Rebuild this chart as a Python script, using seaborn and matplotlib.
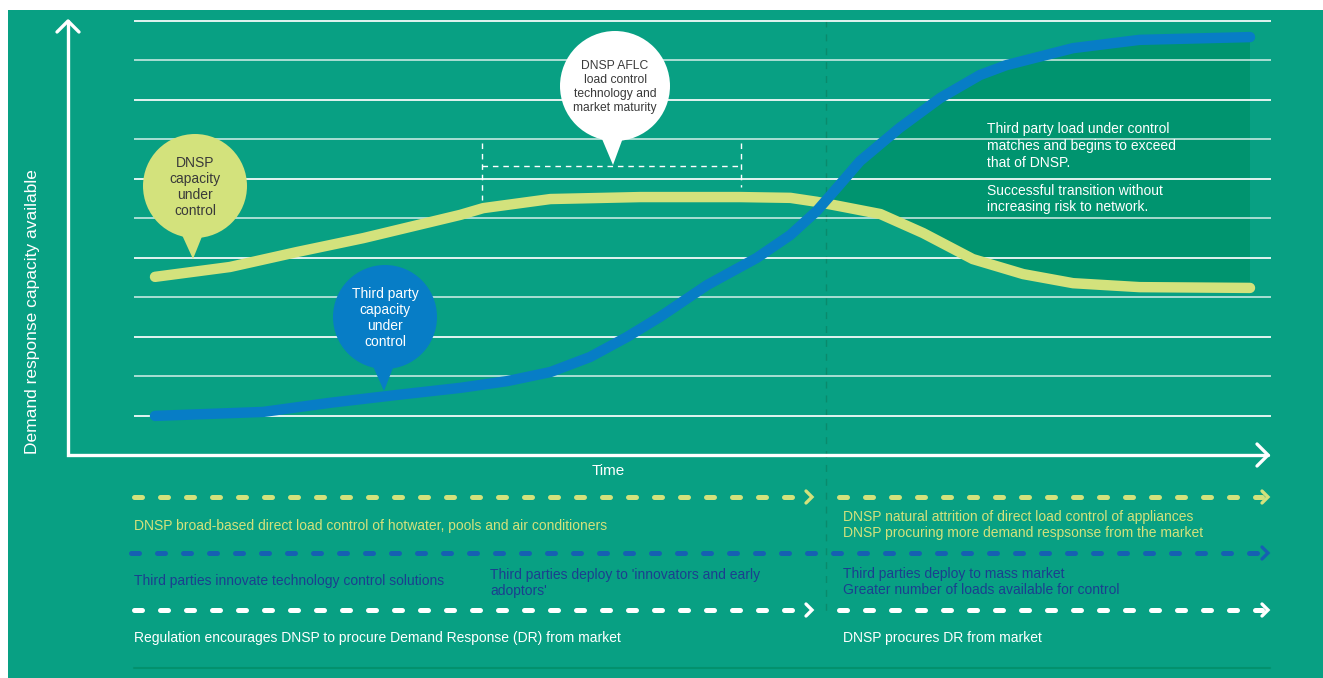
import matplotlib
matplotlib.use("Agg")
import matplotlib.pyplot as plt
from matplotlib.patches import Rectangle, Circle, Polygon
import seaborn as sns

# ---- data (time: 0-100 % of horizon, capacity: grid steps)
dnsp_time = [7.25, 13.5, 19.1, 24.6, 32.7, 34.6, 40.2, 47.7, 56.0, 60.2, 62.4,
             64.3, 67.7, 71.25, 75.4, 79.6, 83.75, 89.3, 98.5]
dnsp_capacity = [4.51, 4.76, 5.14, 5.49, 6.08, 6.25, 6.48, 6.53, 6.53, 6.51, 6.41,
                 6.30, 6.10, 5.62, 4.96, 4.58, 4.35, 4.25, 4.23]

third_time = [7.25, 16.25, 21.8, 27.4, 32.7, 36.6, 40.2, 43.5, 46.6, 49.3, 53.25,
              57.4, 60.2, 62.4, 64.3, 66.0, 69.3, 72.7, 76.0, 78.2, 83.75, 89.3, 98.5]
third_capacity = [0.99, 1.09, 1.32, 1.52, 1.70, 1.87, 2.10, 2.48, 2.99, 3.49, 4.30,
                  4.99, 5.57, 6.18, 6.84, 7.44, 8.28, 9.04, 9.62, 9.87, 10.30, 10.51, 10.58]

grid_levels = list(range(1, 12))
transition_time = 63.2

bubble_labels = ["DNSP\ncapacity\nunder\ncontrol",
                 "Third party\ncapacity\nunder\ncontrol",
                 "DNSP AFLC\nload control\ntechnology and\nmarket maturity"]
note_lines = ["Third party load under control\nmatches and begins to exceed\nthat of DNSP.",
              "Successful transition without\nincreasing risk to network."]
phase1_labels = ["DNSP broad-based direct load control of hotwater, pools and air conditioners",
                 "Third parties innovate technology control solutions",
                 "Regulation encourages DNSP to procure Demand Response (DR) from market"]
phase1b_label = "Third parties deploy to 'innovators and early\nadoptors'"
phase2_labels = ["DNSP natural attrition of direct load control of appliances\n"
                 "DNSP procuring more demand respsonse from the market",
                 "Third parties deploy to mass market\nGreater number of loads available for control",
                 "DNSP procures DR from market"]

BG = "#08a083"
DARK = "#00946f"
YELLOW = "#d3e27c"
BLUE = "#077dc6"
NAVY = "#1b3f8f"
BLUE_DASH = "#1660b2"

sns.set_style("white")
plt.rcParams["font.family"] = ["Liberation Sans", "DejaVu Sans"]

W, H = 1323, 678
fig = plt.figure(figsize=(W / 100, H / 100), dpi=100)
fig.patch.set_facecolor("white")

ax_bg = fig.add_axes([0, 0, 1, 1], zorder=0)
ax_bg.set_xlim(0, W)
ax_bg.set_ylim(H, 0)
ax_bg.axis("off")
ax_bg.add_patch(Rectangle((8, 10), W - 8, H - 10, color=BG, lw=0))


def px(t):
    return 68 + 12 * t


# phase divider
ax_bg.plot([px(transition_time)] * 2, [20, 617], color="#0a8a6c", lw=1,
           dashes=(5, 5))

# ---- main chart
ax = fig.add_axes([68 / W, (H - 455) / H, 1200 / W, 435 / H], zorder=1)
ax.set_xlim(0, 100)
ax.set_ylim(0, 435 / 39.5)
ax.patch.set_alpha(0)
ax.axis("off")

for i, lv in enumerate(grid_levels):
    ax.hlines(lv, 5.5, 100.25, color="white", lw=1.3,
              alpha=0.95 if i % 2 == 0 else 0.7, zorder=2, clip_on=False)

# shaded region where third party capacity exceeds DNSP
top = [(t, c) for t, c in zip(third_time, third_capacity) if t >= 62.4]
bot = [(t, c) for t, c in zip(dnsp_time, dnsp_capacity) if t >= 62.4]
ax.add_patch(Polygon(top + bot[::-1], closed=True, color=DARK, lw=0, zorder=1))

sns.lineplot(x=dnsp_time, y=dnsp_capacity, ax=ax, color=YELLOW, linewidth=7.5,
             sort=False, solid_capstyle="round", solid_joinstyle="round", zorder=3)
sns.lineplot(x=third_time, y=third_capacity, ax=ax, color=BLUE, linewidth=7.5,
             sort=False, solid_capstyle="round", solid_joinstyle="round", zorder=4)

# maturity bracket
br_kw = dict(color="white", lw=1, dashes=(4, 3.5), zorder=2, clip_on=False)
ax.plot([34.5, 56.1], [7.32, 7.32], **br_kw)
ax.plot([34.5, 34.5], [7.9, 6.46], **br_kw)
ax.plot([56.1, 56.1], [7.9, 6.78], **br_kw)

# ---- overlay: axes arrows, bubbles, annotations
ax_top = fig.add_axes([0, 0, 1, 1], zorder=2)
ax_top.set_xlim(0, W)
ax_top.set_ylim(H, 0)
ax_top.patch.set_alpha(0)
ax_top.axis("off")

ax_top.plot([68, 68, 1268], [21, 455, 455], color="white", lw=2.4,
            solid_joinstyle="miter")
ax_top.plot([57, 68, 79], [32, 21, 32], color="white", lw=2.4,
            solid_capstyle="round")
ax_top.plot([1257, 1268, 1257], [444, 455, 466], color="white", lw=2.4,
            solid_capstyle="round")
ax_top.text(33, 312, "Demand response capacity available", rotation=90,
            color="white", fontsize=12.5, ha="center", va="center")
ax_top.text(608, 471, "Time", color="white", fontsize=11, ha="center", va="center")

bubbles = [((195, 186), 52, (193, 259), YELLOW, "#3a3a3a", 10),
           ((385, 317), 52, (384, 391), BLUE, "white", 10),
           ((615, 86), 55, (613, 165), "white", "#3a3a3a", 8.7)]
for (center, r, tip, fc, tc, fs), label in zip(bubbles, bubble_labels):
    cx, cy = center
    ax_top.add_patch(Circle(center, r, color=fc, lw=0))
    ax_top.add_patch(Polygon([(tip[0] - 16, cy + r - 14), (tip[0] + 14, cy + r - 14), tip],
                             closed=True, color=fc, lw=0))
    ax_top.text(cx, cy + 1, label, color=tc, fontsize=fs, ha="center",
                va="center", linespacing=1.2)

ax_top.text(987, 146, note_lines[0], color="white", fontsize=10, ha="left",
            va="center", linespacing=1.25)
ax_top.text(987, 199, note_lines[1], color="white", fontsize=10, ha="left",
            va="center", linespacing=1.25)

# ---- timeline rows
row_y = [497, 553, 610]
row_col = [YELLOW, BLUE_DASH, "white"]
split = px(transition_time)
for k, (y, c) in enumerate(zip(row_y, row_col)):
    dash = dict(color=c, lw=3.6, dash_capstyle="round", linestyle=(0, (1.6, 3.6)))
    chev = dict(color=c, lw=2.4, solid_capstyle="round", solid_joinstyle="miter")
    if k == 1:
        ax_top.plot([131, 1262], [y, y], **dash)
    else:
        ax_top.plot([134, split - 22], [y, y], **dash)
        ax_top.plot([806, 812, 806], [y - 6, y, y + 6], **chev)
        ax_top.plot([split + 13, 1262], [y, y], **dash)
    ax_top.plot([1262, 1268, 1262], [y - 6, y, y + 6], **chev)

text_col = [YELLOW, NAVY, "white"]
left_y = [526, 581, 638]
for lbl, y, c in zip(phase1_labels, left_y, text_col):
    ax_top.text(134, y, lbl, color=c, fontsize=10, ha="left", va="center")
ax_top.text(490, 583, phase1b_label, color=NAVY, fontsize=10, ha="left",
            va="center", linespacing=1.22)
right_y = [525, 582, 638]
for lbl, y, c in zip(phase2_labels, right_y, text_col):
    ax_top.text(843, y, lbl, color=c, fontsize=10, ha="left", va="center",
                linespacing=1.22)

ax_top.plot([134, 1270], [668, 668], color="#03916d", lw=1.5)

fig.savefig("out.png", dpi=100, facecolor="white")
